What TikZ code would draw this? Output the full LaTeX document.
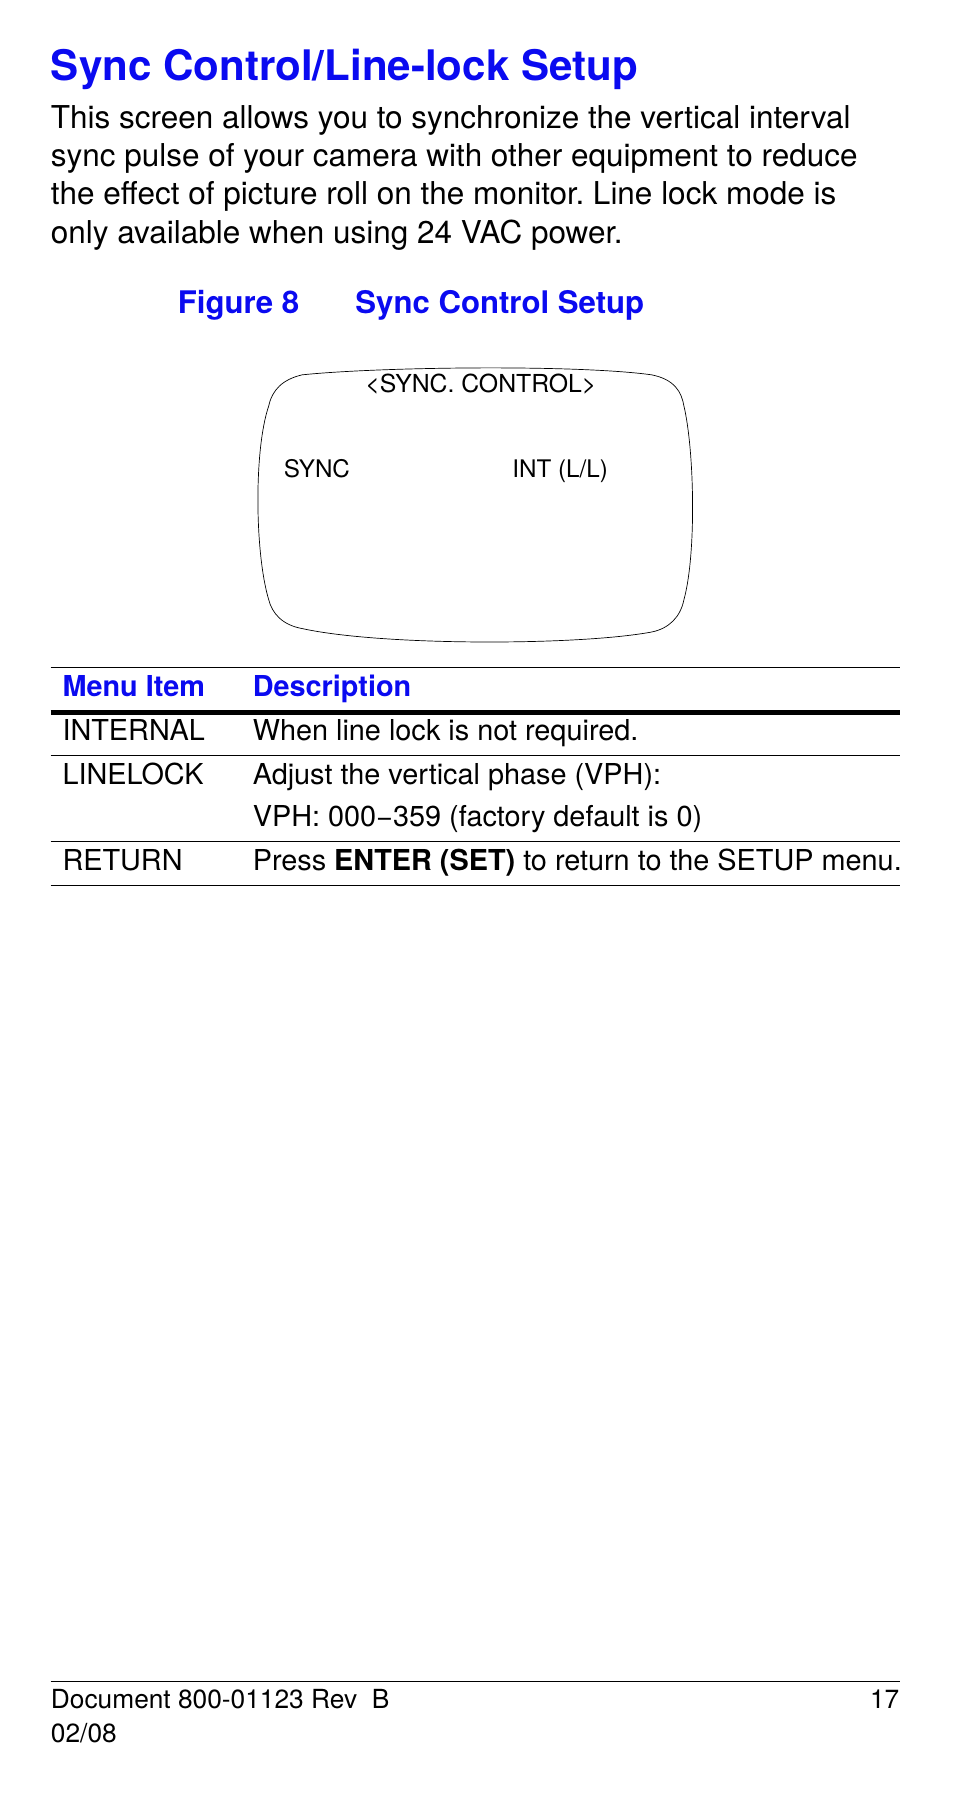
\documentclass[tikz,border=0pt]{standalone}
\usepackage{fontspec}
\setmainfont{TeX Gyre Heros}
\definecolor{hblue}{RGB}{10,10,240}
\begin{document}
\frenchspacing
\begin{tikzpicture}[x=1pt,y=-1pt,
  txt/.style={anchor=base west,inner sep=0pt,font=\fontsize{25}{25}\selectfont},
  body/.style={anchor=base west,inner sep=0pt,font=\fontsize{27.3}{27.3}\selectfont},
  head/.style={anchor=base west,inner sep=0pt,text=hblue,font=\fontsize{25}{25}\selectfont\bfseries},
  scr/.style={anchor=base west,inner sep=0pt,font=\fontsize{21}{21}\selectfont},
  foot/.style={anchor=base west,inner sep=0pt,font=\fontsize{22.8}{22.8}\selectfont},
  rule/.style={line width=0.8pt}]
\useasboundingbox (0,0) rectangle (827,1572);
\node[anchor=base west,inner sep=0pt,text=hblue,font=\fontsize{36.5}{36.5}\selectfont\bfseries] (title) at (44,70) {Sync Control/Line-lock Setup};
\node[body] (p1) at (44,111) {This screen allows you to synchronize the vertical interval};
\node[body] (p2) at (44,144) {sync pulse of your camera with other equipment to reduce};
\node[body] (p3) at (44,177) {the effect of picture roll on the monitor. Line lock mode is};
\node[body] (p4) at (44,211) {only available when using 24 VAC power.};
\node[head,font=\fontsize{27}{27}\selectfont\bfseries] (fig) at (154,272) {Figure 8};
\node[head,font=\fontsize{27}{27}\selectfont\bfseries] (figt) at (308,272) {Sync Control Setup};
% monitor
\draw[line width=0.6pt] (262,325) .. controls (330,318) and (500,316) .. (565,325)
  .. controls (585,329) and (591,340) .. (593,352)
  .. controls (602,390) and (604,480) .. (593,520)
  .. controls (590,535) and (580,545) .. (565,548)
  .. controls (500,560) and (330,560) .. (262,545)
  .. controls (245,542) and (236,532) .. (233,520)
  .. controls (221,480) and (220,390) .. (233,352)
  .. controls (236,338) and (245,329) .. (262,325) -- cycle;
\node[scr,anchor=base,font=\fontsize{21.5}{21.5}\selectfont] (sc) at (417,340) {\char`<SYNC. CONTROL\char`>};
\node[scr] (sy) at (246,414) {SYNC};
\node[scr] (in) at (444,414) {INT (L/L)};
% table
\draw[rule] (44,579) -- (780,579);
\node[head] (h1) at (54,604) {Menu Item};
\node[head] (h2) at (219,604) {Description};
\draw[line width=4.5pt] (44,618) -- (780,618);
\node[txt] (r1a) at (54,642) {INTERNAL};
\node[txt] (r1b) at (219,642) {When line lock is not required.};
\draw[rule] (44,655) -- (780,655);
\node[txt] (r2a) at (54,680) {LINELOCK};
\node[txt] (r2b) at (219,680) {Adjust the vertical phase (VPH):};
\node[txt] (r2c) at (219,717) {VPH: 000\textminus359 (factory default is 0)};
\draw[rule] (44,730) -- (780,730);
\node[txt] (r3a) at (54,755) {RETURN};
\node[txt] (r3b) at (219,755) {Press \textbf{ENTER (SET)} to return to the SETUP menu.};
\draw[rule] (44,768) -- (780,768);
% footer
\draw[rule] (44,1458) -- (780,1458);
\node[foot] (f1) at (44,1481) {Document 800-01123 Rev\ \ B};
\node[foot,anchor=base east] (f2) at (780,1481) {17};
\node[foot] (f3) at (44,1511) {02/08};
\end{tikzpicture}
\end{document}
